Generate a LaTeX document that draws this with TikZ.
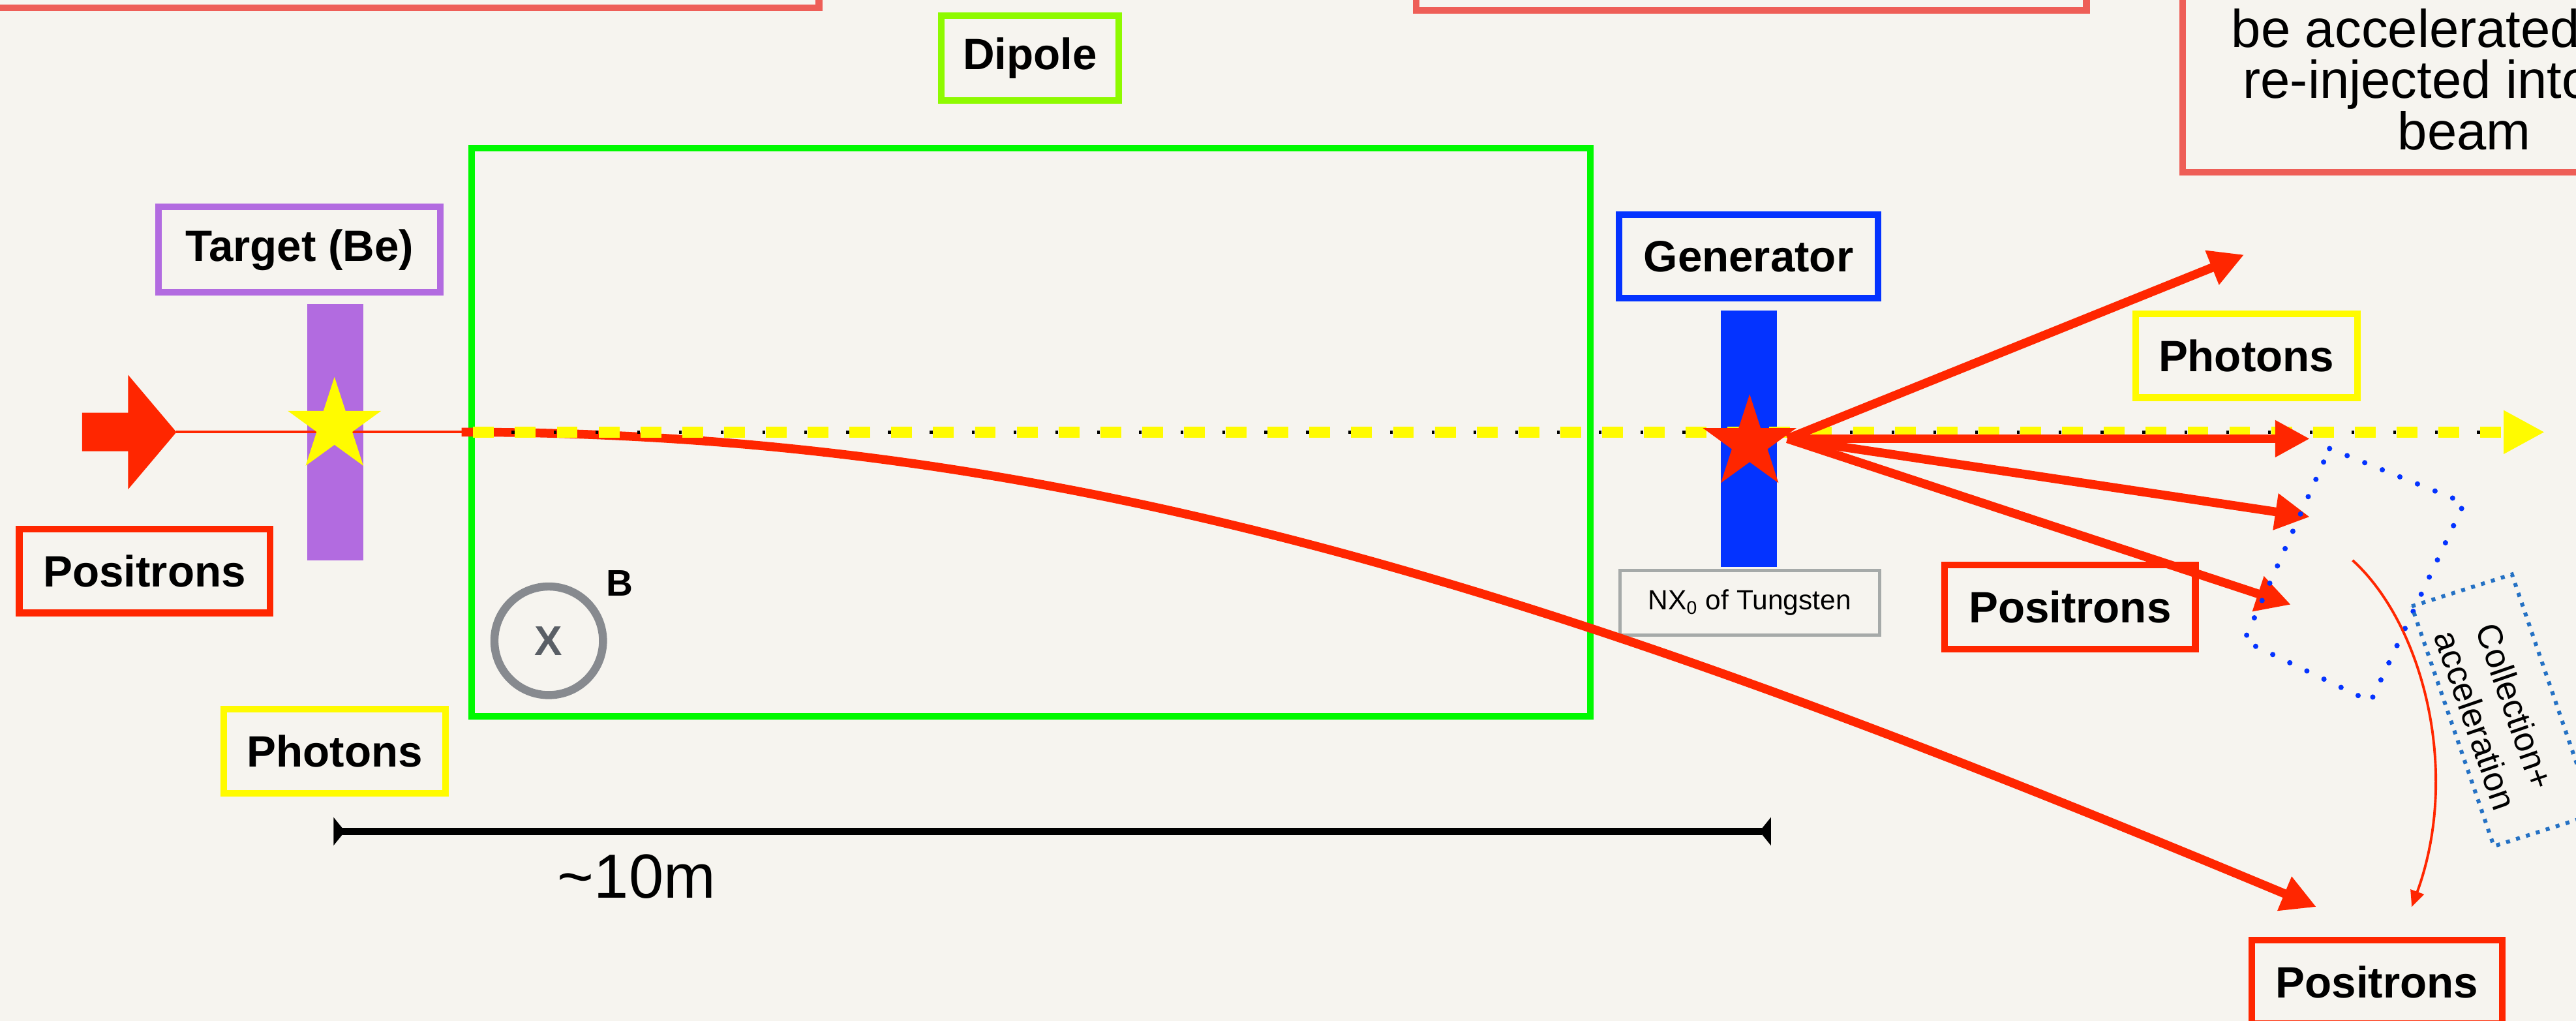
\documentclass[tikz,border=0pt]{standalone}
\usepackage{fontspec}
\setmainfont{Liberation Sans}
\usetikzlibrary{arrows.meta,shapes.geometric}
\definecolor{bg}{RGB}{246,244,239}
\definecolor{kred}{RGB}{255,38,0}
\definecolor{salmon}{RGB}{238,94,87}
\definecolor{kgreen}{RGB}{0,249,0}
\definecolor{chart}{RGB}{142,250,0}
\definecolor{kpurple}{RGB}{178,107,224}
\definecolor{kblue}{RGB}{4,51,255}
\definecolor{kyellow}{RGB}{255,251,0}
\definecolor{kgray}{RGB}{166,170,169}
\definecolor{ringgray}{RGB}{135,138,143}
\definecolor{xgray}{RGB}{90,95,102}
\definecolor{steel}{RGB}{36,113,196}
\begin{document}
\begin{tikzpicture}[x=0.025cm,y=-0.025cm,
  lbl/.style={draw,line width=2.85pt,font=\fontsize{19}{22}\selectfont\bfseries,minimum height=36.3pt,inner sep=0pt},
  poslbl/.style={lbl,draw=kred,minimum width=108.5pt},
  phlbl/.style={lbl,draw=kyellow,minimum width=96pt},
  redarrow/.style={draw=kred,line width=3.8pt,-{Triangle[length=15pt,width=15pt]}},
  barnode/.style={draw=none,minimum width=24.2pt,minimum height=111pt,inner sep=0pt},
  starnode/.style={star,star points=5,star point ratio=2.618,minimum size=42.5pt,inner sep=0pt,draw=none},
  toptext/.style={inner sep=0pt,font=\fontsize{23}{22}\selectfont},
]
\fill[bg] (0,0) rectangle (1568,621.4);
\useasboundingbox (0,0) rectangle (1568,621.4);

% partial boxes at the top
\draw[salmon,line width=2.85pt] (-20,-100) rectangle (498.5,4.6);
\draw[salmon,line width=2.85pt] (862,-100) rectangle (1270,6.2);
\draw[salmon,line width=2.85pt] (1328.7,105) rectangle (1620,-100);
\node[toptext,anchor=base west] (t1) at (1358,28.6) {be accelerated};
\node[toptext,anchor=base west] (t2) at (1365,59.6) {re-injected into};
\node[toptext,anchor=base] (t3) at (1500,91.3) {beam};

% dipole
\node[draw=kgreen,line width=2.8pt,minimum width=484.4pt,minimum height=246.1pt,inner sep=0pt] (dipole) at (627.5,263) {};
\node[lbl,draw=chart,minimum width=76.8pt,minimum height=36.6pt] (diplbl) at (627,35.3) {Dipole};
\node[circle,draw=ringgray,line width=3.5pt,minimum size=47pt,inner sep=0pt,text=xgray,font=\fontsize{18}{20}\selectfont\bfseries] (bfield) at (334,390) {X};
\node[font=\fontsize{16}{18}\selectfont\bfseries,inner sep=0pt] (blbl) at (377,355) {B};

% target
\node[lbl,draw=kpurple,minimum width=121.9pt,minimum height=37pt] (tgtlbl) at (182.3,152) {Target (Be)};
\node[barnode,fill=kpurple] (tgtbar) at (204,263) {};

% generator
\node[lbl,draw=kblue,minimum width=112pt] (genlbl) at (1064.3,156) {Generator};
\node[barnode,fill=kblue] (genbar) at (1064.5,267) {};
\node[draw=kgray,line width=1.4pt,minimum width=112.4pt,minimum height=28.1pt,inner sep=0pt,font=\fontsize{12}{14}\selectfont] (nx) at (1065,366.8) {NX\textsubscript{0} of Tungsten};

% labels
\node[poslbl] (posL) at (88,347.5) {Positrons};
\node[poslbl] (posM) at (1260,369.5) {Positrons};
\node[poslbl] (posB) at (1446.8,597.6) {Positrons};
\node[phlbl] (phL) at (203.8,457.2) {Photons};
\node[phlbl] (phR) at (1367.3,216.5) {Photons};

% coordinates
\coordinate (beamtip) at (107.4,263);
\coordinate (dipin) at (281,263);
\coordinate (photstart) at (288,263);
\coordinate (photdotend) at (1524,263);
\coordinate (photend) at (1549,263);
\coordinate (pend) at (1410,552);
\coordinate (gO) at (1088,267);
\coordinate (a1) at (1366,155);
\coordinate (a2) at (1406,267);
\coordinate (a3) at (1406,314.6);
\coordinate (a4) at (1394.5,368);
\coordinate (cstart) at (1432,341);
\coordinate (cend) at (1468,552);
\coordinate (sL) at (203,506);
\coordinate (sR) at (1078,506);

% incoming beam
\fill[kred] (50,251.2) -- (78,251.2) -- (78,228.2) -- (beamtip) -- (78,297.8) -- (78,274.6) -- (50,274.6) -- cycle;
\draw[kred,line width=1.2pt] (beamtip) -- (dipin);

% positron path in the dipole
\draw[redarrow] (dipin) .. controls (650,263) and (950,360) .. (pend);

% photon line
\draw[black,line width=1.5pt,dash pattern=on 1.2pt off 16.9pt,dash phase=1.4pt] (photstart) -- (photdotend);
\draw[kyellow,line width=4.7pt,dash pattern=on 9pt off 9.1pt,-{Triangle[length=17.8pt,width=17.6pt]}] (photstart) -- (photend);

\node[starnode,fill=kyellow] (tstar) at (203.6,259.3) {};

% generator products
\draw[redarrow] (gO) -- (a1);
\draw[redarrow] (gO) -- (a2);
\draw[redarrow] (gO) -- (a3);
\draw[redarrow] (gO) -- (a4);
\node[starnode,fill=kred] (gstar) at (1065,269.8) {};

% collection region
\draw[kblue,line width=2.3pt,line cap=round,dash pattern=on 0pt off 8.2pt] (1418,273) -- (1500,306) -- (1443,427) -- (1366,390) -- cycle;
\draw[steel,line width=1.7pt,dash pattern=on 1.7pt off 2.8pt] (1468,369) -- (1529,349.6) -- (1579,495.6) -- (1518,515) -- cycle;
\node[rotate=-71,align=center,inner sep=0pt,font=\fontsize{15}{18}\selectfont] (coll) at (1519,434) {Collection+\\acceleration};
\draw[kred,line width=1.1pt,-{Triangle[length=7pt,width=6pt]}] (cstart) .. controls (1475,380) and (1498,470) .. (cend);

% scale
\draw[black,line width=3.3pt,{Triangle[reversed,length=5pt,width=12pt]}-{Triangle[reversed,length=5pt,width=12pt]}] (sL) -- (sR);
\node[anchor=base,inner sep=0pt,font=\fontsize{27}{30}\selectfont] (ten) at (387.5,546.5) {\textasciitilde 10m};
\end{tikzpicture}
\end{document}
